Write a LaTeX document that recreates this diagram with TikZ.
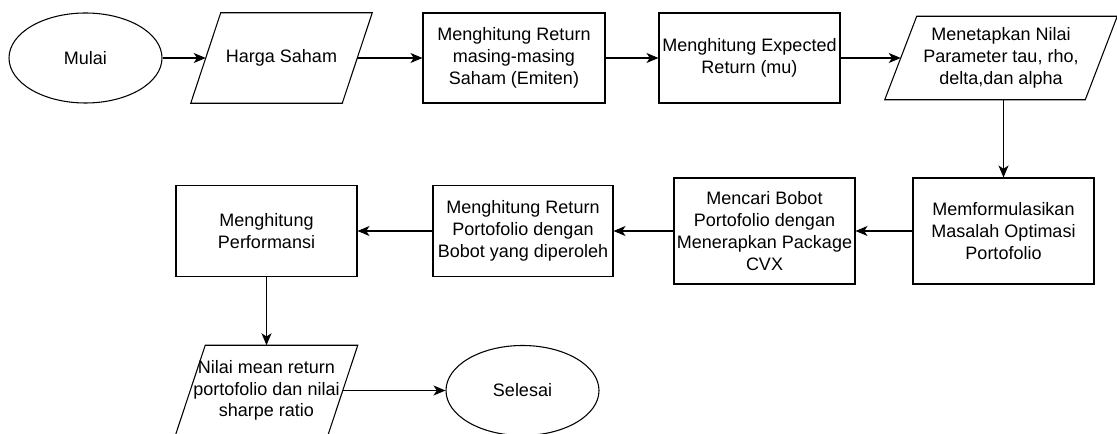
\documentclass[tikz,border=0pt]{standalone}
\usepackage{fontspec}
\setmainfont{Liberation Sans}
\usetikzlibrary{arrows.meta,shapes.geometric}

\begin{document}
\begin{tikzpicture}[x=0.75pt,y=-0.75pt,
  font=\fontsize{13.5}{16.3}\selectfont,
  garis/.style={line width=0.8pt},
  kotak/.style={garis,draw,rectangle,align=center,inner sep=0pt},
  oval/.style={garis,draw,ellipse,inner sep=0pt,minimum width=153*0.75pt,minimum height=90*0.75pt},
  io/.style={rectangle,align=center,inner sep=0pt},
  panah/.style={garis,-{Stealth[length=9pt,width=7.5pt,inset=2.5pt]}}]

\useasboundingbox (0,0) rectangle (1117,434);

% baris atas
\node[oval] (mulai) at (85.5,58) {Mulai};
\node[io,minimum width=151*0.75pt,minimum height=90*0.75pt] (harga) at (281.5,58) {Harga Saham};
\node[kotak,minimum width=182*0.75pt,minimum height=90*0.75pt] (ret) at (514,58) {Menghitung Return\\masing-masing\\Saham (Emiten)};
\node[kotak,minimum width=181*0.75pt,minimum height=90*0.75pt] (exp) at (749.5,58) {Menghitung Expected\\Return (mu)};
\node[io,minimum width=200*0.75pt,minimum height=83*0.75pt] (tetap) at (1001,58) {Menetapkan Nilai\\Parameter tau, rho,\\delta,dan alpha};

% baris tengah
\node[kotak,minimum width=181*0.75pt,minimum height=106*0.75pt] (form) at (1003.5,231) {Memformulasikan\\Masalah Optimasi\\Portofolio};
\node[kotak,minimum width=181*0.75pt,minimum height=106*0.75pt] (cari) at (764.5,231) {Mencari Bobot\\Portofolio dengan\\Menerapkan Package\\CVX};
\node[kotak,minimum width=180*0.75pt,minimum height=91*0.75pt] (porto) at (523,231) {Menghitung Return\\Portofolio dengan\\Bobot yang diperoleh};
\node[kotak,minimum width=181*0.75pt,minimum height=91*0.75pt] (perf) at (266.5,231) {Menghitung\\Performansi};

% baris bawah
\node[io,minimum width=152*0.75pt,minimum height=90*0.75pt] (nilai) at (266.5,390.5) {Nilai mean return\\portofolio dan nilai\\sharpe ratio};
\node[oval] (selesai) at (522.5,390.5) {Selesai};

\foreach \n/\s in {harga/15,tetap/16,nilai/15}
{
\draw[garis] ([shift={(-\s,0)}]\n.south west) -- ([shift={(\s,0)}]\n.north west)
  -- ([shift={(\s,0)}]\n.north east) -- ([shift={(-\s,0)}]\n.south east) -- cycle;
}

\foreach \a/\b in {mulai/harga,harga/ret,ret/exp,exp/tetap,nilai/selesai}
{
\draw[panah] (\a.east) -- (\b.west);
}
\foreach \a/\b in {form/cari,cari/porto,porto/perf}
{
\draw[panah] (\a.west) -- (\b.east);
}

\draw[panah] (tetap.south -| form.north) -- (form.north);
\draw[panah] (perf.south) -- (nilai.north);
\end{tikzpicture}
\end{document}
